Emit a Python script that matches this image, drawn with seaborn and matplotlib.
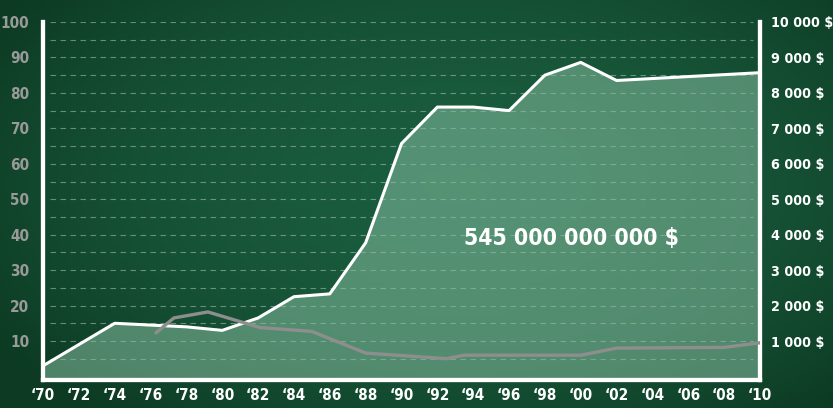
import matplotlib
matplotlib.use("Agg")
import matplotlib.pyplot as plt
from matplotlib import font_manager
import numpy as np
import pandas as pd
import seaborn as sns

# spending line (left axis, 0-100)
years = [1970, 1974, 1976, 1978, 1980, 1982, 1984, 1986, 1988, 1990,
         1992, 1994, 1996, 1998, 2000, 2002, 2010]
index_vals = [3, 15, 14.5, 14, 13, 16.5, 22.5, 23.3, 37.7, 65.7,
              76, 76, 75, 85, 88.6, 83.5, 85.7]

# price line (right axis, $)
price_years = [1976.3, 1977.3, 1979.2, 1982.1, 1985, 1988, 1990,
               1992.5, 1993.5, 2000, 2002, 2008, 2010]
price_vals = [1230, 1650, 1820, 1380, 1270, 660, 590,
              500, 600, 600, 800, 820, 950]

left_ticks = [10, 20, 30, 40, 50, 60, 70, 80, 90, 100]
right_ticks = [1000, 2000, 3000, 4000, 5000, 6000, 7000, 8000, 9000, 10000]
right_labels = ["1 000 $", "2 000 $", "3 000 $", "4 000 $", "5 000 $",
                "6 000 $", "7 000 $", "8 000 $", "9 000 $", "10 000 $"]
x_ticks = list(range(1970, 2011, 2))
x_labels = ["\u2018%02d" % (y % 100) for y in x_ticks]
total_label = "545 000 000 000 $"

sns.set_theme(style="white")

# want a narrow bold face, take what is installed
fonts = {(f.name, f.stretch) for f in font_manager.fontManager.ttflist}
names = {f[0] for f in fonts}
stretch = "normal"
if "Liberation Sans Narrow" in names:
    family, tick_fs, right_fs, big_fs = "Liberation Sans Narrow", 13, 12, 21
elif ("DejaVu Sans", "condensed") in fonts or ("DejaVu Sans", "semi-condensed") in fonts:
    family, tick_fs, right_fs, big_fs, stretch = "DejaVu Sans", 11, 10.3, 16.5, "condensed"
elif "Roboto Condensed" in names:
    family, tick_fs, right_fs, big_fs = "Roboto Condensed", 12, 11, 19
else:
    family, tick_fs, right_fs, big_fs = "DejaVu Sans", 9.5, 9, 15
plt.rcParams["font.family"] = [family, "DejaVu Sans"]
plt.rcParams["font.stretch"] = stretch

df = pd.DataFrame({"year": years, "value": index_vals})
dp = pd.DataFrame({"year": price_years, "price": price_vals})

fig = plt.figure(figsize=(8.33, 4.08), dpi=100)
fig.patch.set_facecolor("#134a31")

# chalkboard-ish gradient background
bg = fig.add_axes([0, 0, 1, 1], zorder=-10)
gx = np.linspace(0, 1, 200)
gy = np.linspace(0, 1, 100)
GX, GY = np.meshgrid(gx, gy)
shade = np.clip(1 - ((GX - 0.55) ** 2 * 1.6 + (GY - 0.45) ** 2 * 1.2), 0, 1)
bg.imshow(shade, cmap=sns.blend_palette(["#0c3a22", "#1a5c3e"], as_cmap=True),
          aspect="auto", extent=[0, 1, 0, 1], vmin=0.3, vmax=1)
bg.axis("off")

ax = fig.add_axes([43 / 833, 1 - 380 / 408, (760 - 43) / 833, (380 - 22) / 408])
ax.set_facecolor("none")

ax.fill_between(df["year"], df["value"], -1, color="#86bda0", alpha=0.55,
                linewidth=0, zorder=2)
sns.lineplot(data=df, x="year", y="value", ax=ax, color="white", lw=2.2, zorder=4)

for v in np.arange(5, 101, 5):
    ax.axhline(v, xmin=0.01, xmax=0.99, color="#b9d3c4", lw=0.8,
               ls=(0, (5, 4)), alpha=0.5, zorder=1)

ax.set_xlim(1970, 2010)
ax.set_ylim(-1, 100)
ax.set_yticks(left_ticks)
ax.set_yticklabels([str(t) for t in left_ticks], color="#9a9a9a",
                   fontsize=tick_fs, fontweight="bold")
ax.set_xticks(x_ticks)
ax.set_xticklabels(x_labels, color="white", fontsize=tick_fs, fontweight="bold")
ax.tick_params(axis="x", length=0, pad=6)
ax.tick_params(axis="y", length=0, pad=10)
ax.set_xlabel("")
ax.set_ylabel("")

ax2 = ax.twinx()
sns.lineplot(data=dp, x="year", y="price", ax=ax2, color="#8e8e8e", lw=2.4, zorder=3)
ax2.set_ylim(-100, 10000)
ax2.set_yticks(right_ticks)
ax2.set_yticklabels(right_labels, color="white", fontsize=right_fs, fontweight="bold")
ax2.tick_params(axis="y", length=0, pad=8)
ax2.set_ylabel("")
ax2.set_facecolor("none")

for a in (ax, ax2):
    a.spines["top"].set_visible(False)
    for s in ("left", "right", "bottom"):
        a.spines[s].set_color("white")
        a.spines[s].set_linewidth(3)

ax.text(1999.5, 39, total_label, color="white", fontsize=big_fs, fontweight="bold",
        ha="center", va="center", zorder=6)

fig.savefig("out.png", dpi=100, facecolor=fig.get_facecolor())
